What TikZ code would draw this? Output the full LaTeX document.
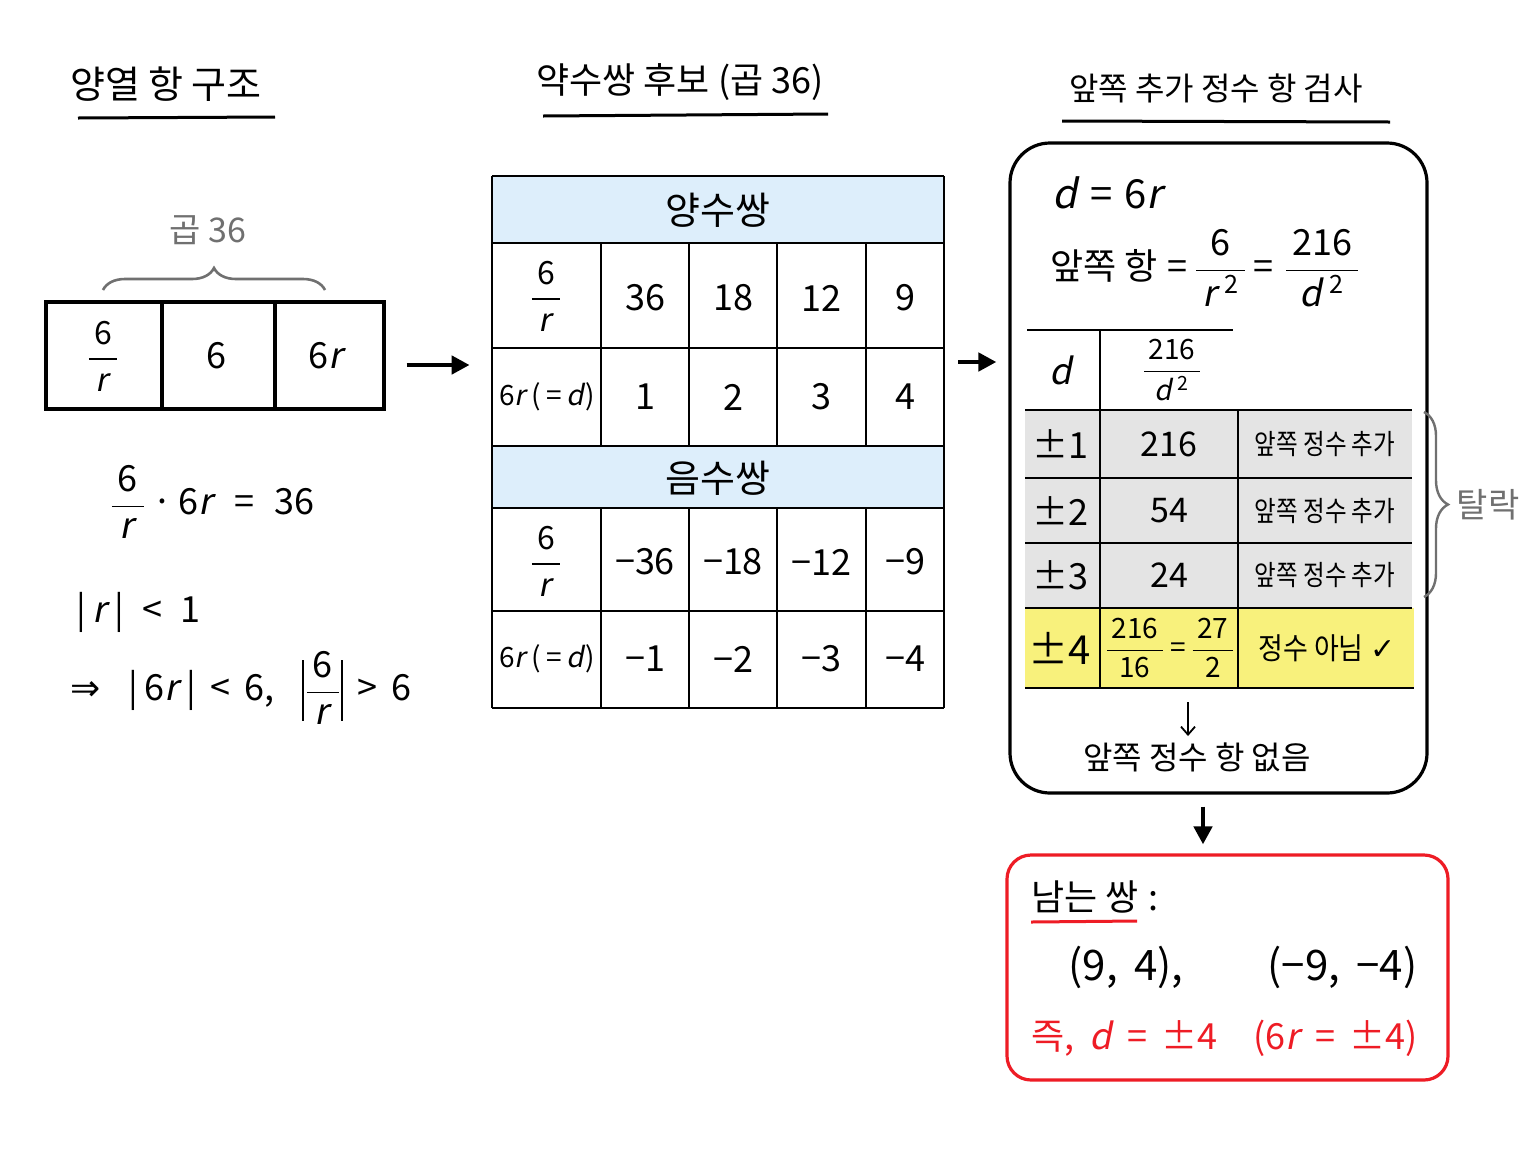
\documentclass[tikz,border=0pt]{standalone}
\usepackage{amsmath}
\usepackage{fontspec}
\setmainfont{Noto Sans CJK KR}
\newfontfamily\dejavu{DejaVu Sans}
\newfontfamily\itfont{Noto Sans CJK KR}[FakeSlant=0.2]
\newcommand\V[1]{{\itfont #1}\kern0.06em}
\newcommand\Fr[2]{\ensuremath{\displaystyle\frac{\text{\,#1\,}}{\text{\,#2\,}}}}
\newcommand\sq[1]{\ensuremath{^{\text{#1}}}}
\newcommand\absbar{\raisebox{-0.55em}{\rule{0.06em}{1.7em}}}
\usetikzlibrary{arrows.meta,decorations.pathreplacing,calc}
\definecolor{hdrblue}{HTML}{DDEEFB}
\definecolor{rowgray}{HTML}{E4E4E4}
\definecolor{rowyel}{HTML}{F8F17C}
\definecolor{redc}{HTML}{EE1C25}
\definecolor{grayc}{HTML}{707070}
\begin{document}
\begin{tikzpicture}[x=0.5pt,y=-0.5pt,
  txt/.style={inner sep=0pt, font=\fontsize{19}{23}\selectfont},
  num/.style={inner sep=0pt, font=\fontsize{18}{22}\selectfont},
  mid/.style={inner sep=0pt, font=\fontsize{16}{19}\selectfont},
  small/.style={inner sep=0pt, font=\fontsize{14}{17}\selectfont},
  titlea/.style={inner sep=0pt, font=\fontsize{19}{23}\selectfont},
  tline/.style={line width=1.5pt},
  grid/.style={line width=1.3pt},
  bigarrow/.style={line width=2.3pt,-{Triangle[length=9pt,width=9pt]}},
]
\useasboundingbox (0,0) rectangle (1536,1152);
\fill[white] (0,0) rectangle (1536,1152);

% ---------- titles
\node[titlea] (t1) at (166,84) {양열 항 구조};
\draw[tline] (78,118) -- (275,117);
\node[titlea, font=\fontsize{18}{22}\selectfont] (t2) at (680,82) {약수쌍 후보 (곱 36)};
\draw[tline] (543,116) -- (828,114);
\node[titlea, font=\fontsize{16}{20}\selectfont] (t3) at (1216,88) {앞쪽 추가 정수 항 검사};
\draw[tline] (1062,121) -- (1390,122);

% ---------- left structure
\node[draw, line width=1.6pt, minimum width=169pt, minimum height=53.5pt, inner sep=0pt] (box1) at (215,355.5) {};
\draw[line width=1.6pt] (162,302) -- (162,409);
\draw[line width=1.6pt] (275,302) -- (275,409);
\node[mid] (b1) at (103,356) {\Fr{6}{\V{r}}};
\node[num] (b2) at (216,356) {6};
\node[num] (b3) at (327,356) {6\V{r}};
\draw[grayc, line width=1.3pt, decorate, decoration={brace, amplitude=11pt}] (103,290) -- (325,290);
\node[txt, grayc, font=\fontsize{17}{20}\selectfont] (lbl36) at (208,230) {곱 36};

\node[num] (eq1) at (212,502) {\Fr{6}{\V{r}}\,·\,6\V{r}\;\;=\;\;36};
\node[num, anchor=west] (eq2) at (76,612) {|\,\V{r}\,|\; <\; 1};
\node[num, anchor=west] (eq3) at (70,688) {{\dejavu ⇒}\;\; |\,6\V{r}\,|\, <\, 6,\;\; \absbar\Fr{6}{\V{r}}\absbar\, >\, 6};

\draw[bigarrow] ($(box1.east)+(21,9.5)$) -- ($(box1.east)+(84,9.5)$);

% ---------- middle table
\node[minimum width=226pt, minimum height=266pt, inner sep=0pt] (tbl) at (718,442) {};
\fill[hdrblue] (492,176) rectangle (944,243);
\fill[hdrblue] (492,446) rectangle (944,508);
\foreach \yy in {176,243,348,446,508,611,708} \draw[grid] (492,\yy) -- (944,\yy);
\draw[grid] (492,176) -- (492,708);
\draw[grid] (944,176) -- (944,708);
\foreach \xx in {601,689,777,866} {
  \draw[grid] (\xx,243) -- (\xx,446);
  \draw[grid] (\xx,508) -- (\xx,708);
}
\node[txt] (hp) at (718,210) {양수쌍};
\node[txt] (hn) at (718,478) {음수쌍};
\node[mid] (p1) at (546,296) {\Fr{6}{\V{r}}};
\node[num] (p2) at (645,298) {36};
\node[num] (p3) at (733,298) {18};
\node[num] (p4) at (821,298) {12};
\node[num] (p5) at (905,298) {9};
\node[small] (q1) at (547,397) {6\V{r}\,(\,=\,\V{d})};
\node[num] (q2) at (645,397) {1};
\node[num] (q3) at (733,397) {2};
\node[num] (q4) at (821,397) {3};
\node[num] (q5) at (905,397) {4};
\node[mid] (n1) at (546,561) {\Fr{6}{\V{r}}};
\node[num] (n2) at (645,562) {−36};
\node[num] (n3) at (733,562) {−18};
\node[num] (n4) at (821,562) {−12};
\node[num] (n5) at (905,562) {−9};
\node[small] (m1) at (547,659) {6\V{r}\,(\,=\,\V{d})};
\node[num] (m2) at (645,659) {−1};
\node[num] (m3) at (733,659) {−2};
\node[num] (m4) at (821,659) {−3};
\node[num] (m5) at (905,659) {−4};

% ---------- right box
\node[draw, line width=1.6pt, rounded corners=20pt, minimum width=208.5pt, minimum height=325pt, inner sep=0pt] (chk) at (1218.5,468) {};
\draw[bigarrow] ($(tbl.east)+(14,-80)$) -- ($(chk.west)+(-12,-106)$);

\node[num, anchor=west, font=\fontsize{20}{24}\selectfont] (deq) at (1052,193) {\V{d}\;=\;6\V{r}};
\node[num, anchor=west] (front) at (1050,268) {앞쪽 항\;=\,\Fr{6}{\V{r}\,\sq{2}}\,=\;\Fr{216}{\V{d}\,\sq{2}}};
\fill[rowgray] (1025,410) rectangle (1412,608);
\fill[rowyel] (1025,608) rectangle (1414,688);
\draw[grid] (1027,330) -- (1233,330);
\draw[grid] (1100,330) -- (1100,688);
\draw[grid] (1238,410) -- (1238,688);
\foreach \yy in {410,478,543,608} \draw[grid] (1025,\yy) -- (1412,\yy);
\draw[grid] (1025,688) -- (1414,688);
\node[num] (hd) at (1062,370) {\V{d}};
\node[small] (hv) at (1172,370) {\Fr{216}{\V{d}\,\sq{2}}};
\node[num] (r1a) at (1060,444) {±1};
\node[num, font=\fontsize{17}{20}\selectfont] (r1b) at (1169,444) {216};
\node[small] (r1c) at (1325,444) {\scalebox{0.84}[1]{앞쪽 정수 추가}};
\node[num] (r2a) at (1060,511) {±2};
\node[num, font=\fontsize{17}{20}\selectfont] (r2b) at (1169,511) {54};
\node[small] (r2c) at (1325,511) {\scalebox{0.84}[1]{앞쪽 정수 추가}};
\node[num] (r3a) at (1060,575) {±3};
\node[num, font=\fontsize{17}{20}\selectfont] (r3b) at (1169,575) {24};
\node[small] (r3c) at (1325,575) {\scalebox{0.84}[1]{앞쪽 정수 추가}};
\node[num, font=\fontsize{20}{24}\selectfont] (r4a) at (1060,648) {±4};
\node[small] (r4b) at (1170,648) {\Fr{216}{16}\,=\,\Fr{27}{2}};
\node[small, font=\fontsize{15}{18}\selectfont] (r4c) at (1327,648) {\scalebox{0.9}[1]{정수 아님} {\dejavu ✓}};
\draw[grayc, line width=1.2pt, decorate, decoration={brace, amplitude=12pt}] (1424,412) -- (1424,597);
\node[txt, grayc, font=\fontsize{17}{20}\selectfont] (drop) at (1488,505) {탈락};
\node[txt, font=\fontsize{16}{19}\selectfont] (none) at (1197,757) {앞쪽 정수 항 없음};
\coordinate (sa) at (1188,702);
\draw[line width=0.9pt, -{Straight Barb[length=4pt,width=7pt]}] (sa) -- ($(none.north)+(-9,-6)$);

% ---------- result box
\node[draw=redc, line width=1.6pt, rounded corners=12pt, minimum width=220.5pt, minimum height=112.5pt, inner sep=0pt] (res) at (1227.5,967.5) {};
\draw[bigarrow] ($(chk.south)+(-15.5,12)$) -- ($(res.north)+(-24.5,-9)$);
\node[txt, anchor=west, font=\fontsize{18}{22}\selectfont] (rem) at (1031,897) {남는 쌍\;:};
\draw[redc, line width=1.5pt] (1031,922) -- (1137,921);
\node[num, font=\fontsize{21}{25}\selectfont] (pairs) at (1243,967) {(9,\, 4),\qquad (−9,\, −4)};
\node[num, text=redc, font=\fontsize{18}{22}\selectfont] (ans) at (1225,1038) {즉,\, \V{d}\, =\, ±4\quad (6\V{r}\, =\, ±4)};
\end{tikzpicture}
\end{document}
